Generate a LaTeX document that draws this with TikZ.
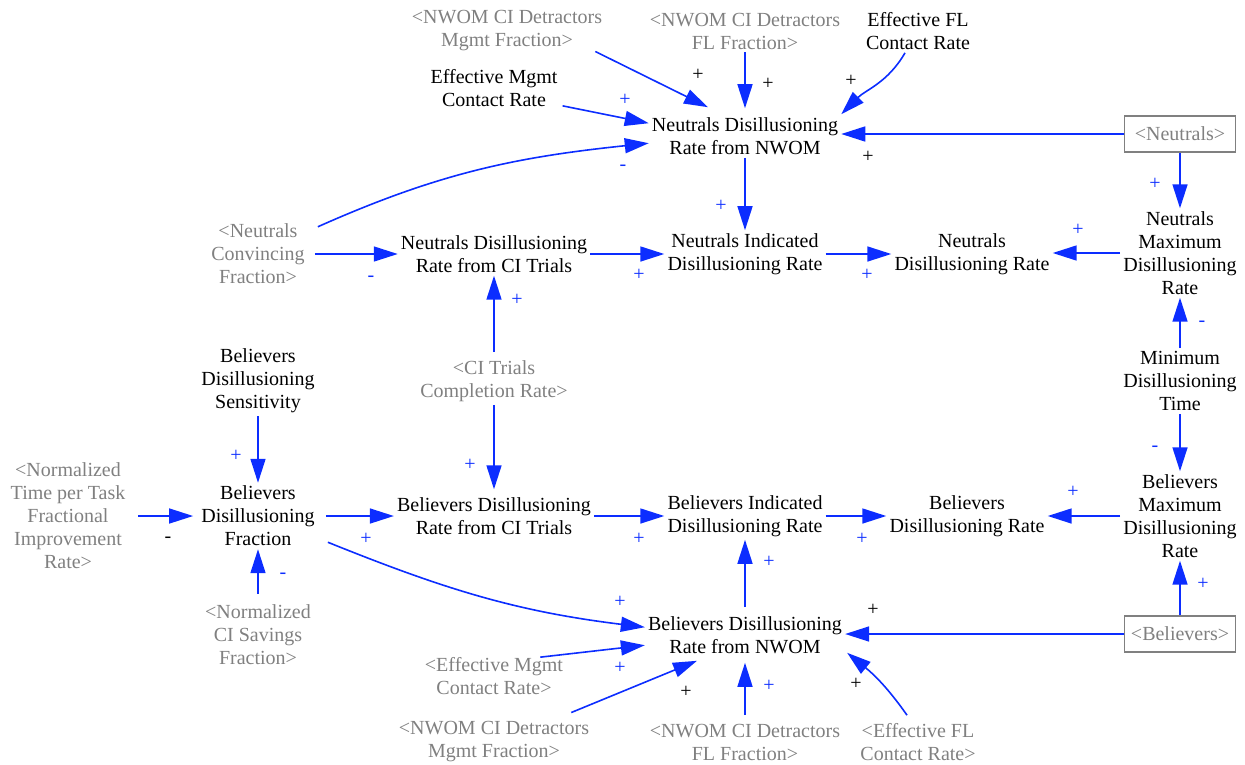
\documentclass[tikz,border=0pt]{standalone}
\usepackage{fontspec}
\setmainfont{Liberation Serif}
\usetikzlibrary{arrows.meta}
\definecolor{linkblue}{RGB}{12,45,255}
\definecolor{ghostgray}{RGB}{128,128,128}

\begin{document}
\begin{tikzpicture}[x=1pt,y=1pt,
  varnode/.style={align=center,font=\fontsize{20}{23}\selectfont,inner sep=3pt},
  ghostnode/.style={varnode,text=ghostgray},
  stockbox/.style={varnode,text=ghostgray,draw=ghostgray,line width=1.4pt,
    minimum width=111pt,minimum height=36pt},
  link/.style={draw=linkblue,line width=1.6pt,-{Triangle[length=24pt,width=15pt]}},
  sgnb/.style={font=\fontsize{20}{20}\selectfont,text=linkblue,inner sep=0pt},
  sgnk/.style={sgnb,text=black}]
\useasboundingbox (0,0) rectangle (1245,-764);

% ---- variables ----
\node[ghostnode] (nwomMgN) at (507,-31) {<NWOM CI Detractors\\Mgmt Fraction>};
\node[ghostnode] (nwomFlN) at (745,-31) {<NWOM CI Detractors\\FL Fraction>};
\node[varnode]   (effFL)   at (918,-31) {Effective FL\\Contact Rate};
\node[varnode]   (effMg)   at (494,-88) {Effective Mgmt\\Contact Rate};
\node[varnode]   (ndN)     at (745,-136) {Neutrals Disillusioning\\Rate from NWOM};
\node[stockbox]  (neutrals) at (1180,-134) {<Neutrals>};

\node[ghostnode] (ncf)  at (258,-254) {<Neutrals\\Convincing\\Fraction>};
\node[varnode]   (ndci) at (494,-254) {Neutrals Disillusioning\\Rate from CI Trials};
\node[varnode]   (nidr) at (745,-254) {Neutrals Indicated\\Disillusioning Rate};
\node[varnode]   (ndr)  at (972,-254) {Neutrals\\Disillusioning Rate};
\node[varnode]   (nmdr) at (1180,-253) {Neutrals\\Maximum\\Disillusioning\\Rate};

\node[varnode]   (bds)   at (258,-381) {Believers\\Disillusioning\\Sensitivity};
\node[ghostnode] (citcr) at (494,-381) {<CI Trials\\Completion Rate>};
\node[varnode]   (mdt)   at (1180,-381) {Minimum\\Disillusioning\\Time};

\node[ghostnode] (ntpt) at (68,-516) {<Normalized\\Time per Task\\Fractional\\Improvement\\Rate>};
\node[varnode]   (bdf)  at (258,-516) {Believers\\Disillusioning\\Fraction};
\node[varnode]   (bdci) at (494,-516) {Believers Disillusioning\\Rate from CI Trials};
\node[varnode]   (bidr) at (745,-516) {Believers Indicated\\Disillusioning Rate};
\node[varnode]   (bdr)  at (967,-516) {Believers\\Disillusioning Rate};
\node[varnode]   (bmdr) at (1180,-516) {Believers\\Maximum\\Disillusioning\\Rate};

\node[ghostnode] (ncisf) at (258,-635) {<Normalized\\CI Savings\\Fraction>};
\node[varnode]   (bdN)   at (745,-635) {Believers Disillusioning\\Rate from NWOM};
\node[stockbox]  (believers) at (1180,-634) {<Believers>};
\node[ghostnode] (effMgB)  at (494,-676) {<Effective Mgmt\\Contact Rate>};
\node[ghostnode] (nwomMgB) at (494,-742) {<NWOM CI Detractors\\Mgmt Fraction>};
\node[ghostnode] (nwomFlB) at (745,-742) {<NWOM CI Detractors\\FL Fraction>};
\node[ghostnode] (effFLB)  at (918,-742) {<Effective FL\\Contact Rate>};

% ---- links into the neutrals rate from NWOM ----
\draw[link] ([xshift=-10pt,yshift=3pt]nwomMgN.south east) -- ([xshift=-37pt,yshift=7pt]ndN.north);
\draw[link] (nwomFlN.south) -- ([yshift=6pt]ndN.north);
\draw[link] ([xshift=-13pt]effFL.south) to[out=240,in=45] (ndN.north east);
\draw[link] ([xshift=2pt,yshift=4pt]effMg.south east) -- ([yshift=-9pt]ndN.north west);
\draw[link] ([xshift=10pt,yshift=-6pt]ncf.north east) to[out=24,in=186] ([yshift=-29pt]ndN.north west);
\draw[link] (neutrals.west) -- (neutrals.west -| ndN.east);
\draw[link] (neutrals.south) -- (nmdr.north);

% ---- neutrals row ----
\draw[link] (ndN.south) -- (nidr.north);
\draw[link] ([xshift=7pt]ncf.east) -- (ncf.east -| ndci.west);
\draw[link] (ndci.east) -- (nidr.west);
\draw[link] (nidr.east) -- (ndr.west);
\draw[link] (nmdr.west) -- (nmdr.west -| ndr.east);
\draw[link] ([yshift=5pt]citcr.north) -- (ndci.south);
\draw[link] (mdt.north) -- (nmdr.south);

% ---- believers row ----
\draw[link] (mdt.south) -- (bmdr.north);
\draw[link] (citcr.south) -- ([yshift=5pt]bdci.north);
\draw[link] (bds.south) -- (bdf.north);
\draw[link] ([xshift=10pt]ntpt.east) -- ([xshift=-5pt]bdf.west);
\draw[link] ([yshift=8pt]ncisf.north) -- (bdf.south);
\draw[link] ([xshift=8pt]bdf.east) -- (bdf.east -| bdci.west);
\draw[link] (bdci.east) -- (bidr.west);
\draw[link] (bidr.east) -- (bdr.west);
\draw[link] (bmdr.west) -- (bmdr.west -| bdr.east);
\draw[link] ([yshift=6pt]bdN.north) -- (bidr.south);

% ---- links into the believers rate from NWOM ----
\draw[link] ([xshift=10pt,yshift=7pt]bdf.south east) to[out=-22,in=173] ([yshift=-14pt]bdN.north west);
\draw[link] ([xshift=-26pt,yshift=-3pt]effMgB.north east) -- ([yshift=-32pt]bdN.north west);
\draw[link] ([xshift=-21pt,yshift=6pt]nwomMgB.north east) -- ([xshift=-48pt,yshift=-4pt]bdN.south);
\draw[link] ([yshift=6pt]nwomFlB.north) -- ([yshift=-6pt]bdN.south);
\draw[link] ([xshift=-11pt,yshift=5pt]effFLB.north) to[out=125,in=-39] ([xshift=2pt,yshift=4pt]bdN.south east);
\draw[link] (believers.west) -- (believers.west -| bdN.east);
\draw[link] (believers.north) -- (bmdr.south);

% ---- link polarities ----
\node[sgnk] (s1)  at (698,-75)  {+};
\node[sgnk] (s2)  at (768,-84)  {+};
\node[sgnk] (s3)  at (851,-81)  {+};
\node[sgnb] (s4)  at (625,-100) {+};
\node[sgnb] (s5)  at (623,-168) {-};
\node[sgnk] (s6)  at (868,-157) {+};
\node[sgnb] (s7)  at (1155,-184) {+};
\node[sgnb] (s8)  at (721,-206) {+};
\node[sgnb] (s9)  at (371,-279) {-};
\node[sgnb] (s10) at (639,-275) {+};
\node[sgnb] (s11) at (867,-275) {+};
\node[sgnb] (s12) at (1078,-230) {+};
\node[sgnb] (s13) at (517,-300) {+};
\node[sgnb] (s14) at (1202,-324) {-};
\node[sgnb] (s15) at (1155,-449) {-};
\node[sgnb] (s16) at (470,-465) {+};
\node[sgnb] (s17) at (236,-456) {+};
\node[sgnk] (s18) at (168,-540) {-};
\node[sgnb] (s19) at (283,-576) {-};
\node[sgnb] (s20) at (366,-539) {+};
\node[sgnb] (s21) at (639,-539) {+};
\node[sgnb] (s22) at (862,-539) {+};
\node[sgnb] (s23) at (1073,-492) {+};
\node[sgnb] (s24) at (769,-562) {+};
\node[sgnb] (s25) at (620,-602) {+};
\node[sgnb] (s26) at (620,-668) {+};
\node[sgnk] (s27) at (686,-692) {+};
\node[sgnb] (s28) at (769,-686) {+};
\node[sgnk] (s29) at (856,-684) {+};
\node[sgnk] (s30) at (873,-610) {+};
\node[sgnb] (s31) at (1203,-584) {+};
\end{tikzpicture}
\end{document}
